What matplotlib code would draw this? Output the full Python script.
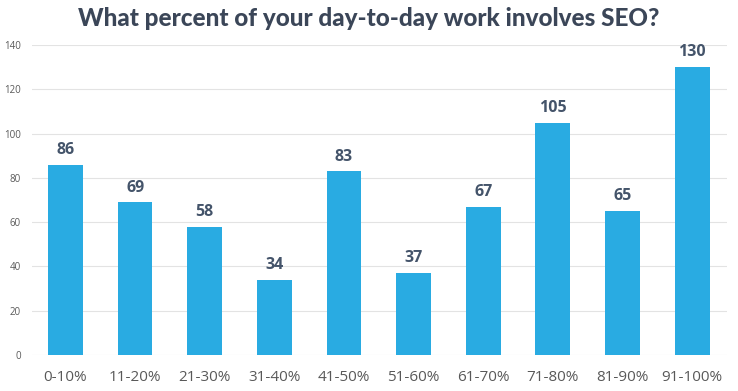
import matplotlib
matplotlib.use("Agg")
import matplotlib.pyplot as plt

categories = ["0-10%", "11-20%", "21-30%", "31-40%", "41-50%", "51-60%", "61-70%", "71-80%", "81-90%", "91-100%"]
values = [86, 69, 58, 34, 83, 37, 67, 105, 65, 130]
yticks = [0, 20, 40, 60, 80, 100, 120, 140]

fig = plt.figure(figsize=(7.38, 3.91), dpi=100)
ax = fig.add_axes([32/738, 1-355/391, (727-32)/738, 310/391])

x = list(range(len(categories)))
bars = ax.bar(x, values, width=0.5, color="#29abe2", zorder=3)
for xi, v in zip(x, values):
    ax.text(xi, v + 3, str(v), ha="center", va="bottom", fontsize=11.5,
            fontweight="bold", color="#44546a", family="Open Sans")

ax.set_ylim(0, 140)
ax.set_xlim(-0.48, 9.5)
ax.set_yticks(yticks)
ax.set_yticklabels([str(t) for t in yticks], fontsize=7, color="#595959", family="Open Sans")
ax.set_xticks(x)
ax.set_xticklabels(categories, fontsize=11, color="#595959", family="Open Sans")
ax.tick_params(length=0)
ax.tick_params(axis="y", pad=8)
ax.tick_params(axis="x", pad=11)
ax.grid(axis="y", color="#e3e3e3", linewidth=0.8, zorder=0)
for s in ax.spines.values():
    s.set_visible(False)

fig.text(0.5, 1-18/391, "What percent of your day-to-day work involves SEO?", ha="center",
         va="center", fontsize=17.5, fontweight="black", color="#3b4658", family="Lato")

fig.savefig("out.png", dpi=100, facecolor="white")
